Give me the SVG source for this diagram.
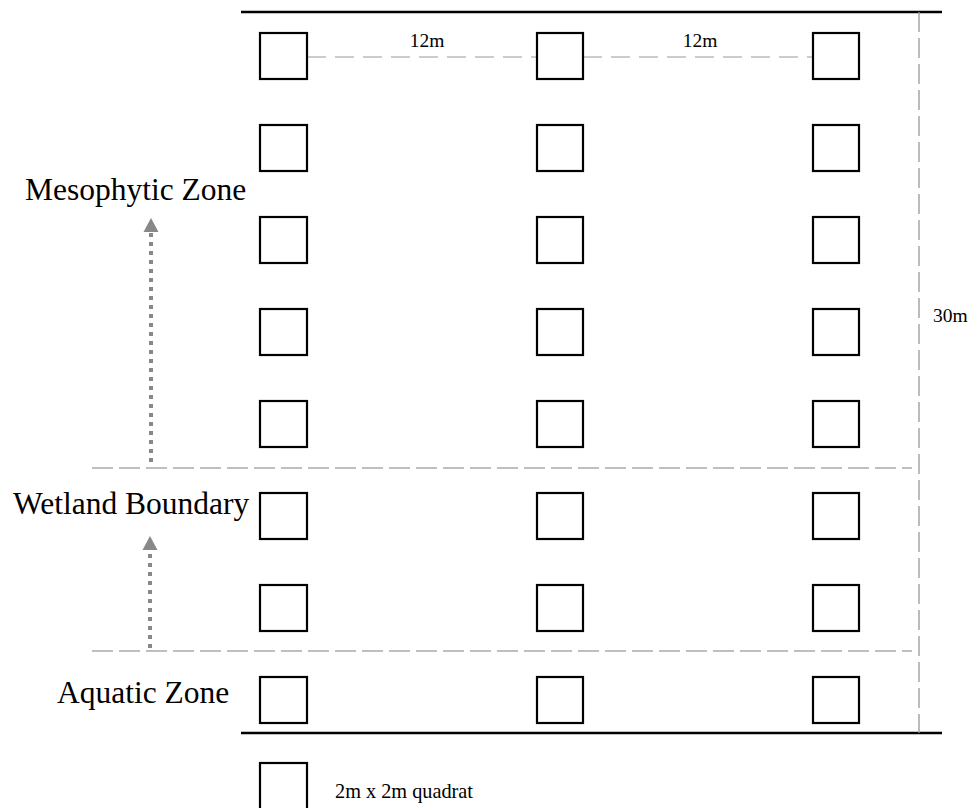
<svg xmlns="http://www.w3.org/2000/svg" width="977" height="808" viewBox="0 0 977 808">
<defs>
<style>
.q{fill:#fff;stroke:#000;stroke-width:2.2}
.edge{stroke:#000;stroke-width:2.5}
.dash{stroke:#aaa;stroke-width:1.3;stroke-dasharray:21 6;fill:none}
.dash2{stroke:#999;stroke-width:1.1;stroke-dasharray:19 9;fill:none}
.vdash{stroke:#999;stroke-width:1.3;stroke-dasharray:20 6;fill:none}
.dot{stroke:#888;stroke-width:4;stroke-dasharray:4 5;fill:none}
.big{font-family:"Liberation Serif","Times New Roman",serif;font-size:31.5px;fill:#000}
.sm{font-family:"Liberation Serif","Times New Roman",serif;font-size:19.5px;fill:#000}
.lg{font-family:"Liberation Serif","Times New Roman",serif;font-size:20.3px;fill:#000}
</style>
</defs>
<rect width="977" height="808" fill="#fff"/>
<g id="connectors">
<line class="edge" x1="241" y1="12" x2="942" y2="12"/>
<line class="edge" x1="241" y1="733" x2="942" y2="733"/>
<line class="vdash" x1="919" y1="12" x2="919" y2="733"/>
<line class="dash2" x1="307" y1="57" x2="537" y2="57"/>
<line class="dash2" x1="583" y1="57" x2="813" y2="57"/>
<line class="dash" x1="92" y1="468" x2="912" y2="468"/>
<line class="dash" x1="92" y1="651" x2="912" y2="651"/>
<line class="dot" x1="151" y1="462" x2="151" y2="232"/>
<path d="M151,218 L158.5,232 L143.5,232 Z" fill="#888"/>
<line class="dot" x1="150" y1="648" x2="150" y2="550"/>
<path d="M150,536 L157.5,550 L142.5,550 Z" fill="#888"/>
</g>
<g id="col1">
<rect class="q" x="260" y="33" width="47" height="46"/>
<rect class="q" x="260" y="125" width="47" height="46"/>
<rect class="q" x="260" y="217" width="47" height="46"/>
<rect class="q" x="260" y="309" width="47" height="46"/>
<rect class="q" x="260" y="401" width="47" height="46"/>
<rect class="q" x="260" y="493" width="47" height="46"/>
<rect class="q" x="260" y="585" width="47" height="46"/>
<rect class="q" x="260" y="677" width="47" height="46"/>
</g>
<g id="col2">
<rect class="q" x="537" y="33" width="46" height="46"/>
<rect class="q" x="537" y="125" width="46" height="46"/>
<rect class="q" x="537" y="217" width="46" height="46"/>
<rect class="q" x="537" y="309" width="46" height="46"/>
<rect class="q" x="537" y="401" width="46" height="46"/>
<rect class="q" x="537" y="493" width="46" height="46"/>
<rect class="q" x="537" y="585" width="46" height="46"/>
<rect class="q" x="537" y="677" width="46" height="46"/>
</g>
<g id="col3">
<rect class="q" x="813" y="33" width="46" height="46"/>
<rect class="q" x="813" y="125" width="46" height="46"/>
<rect class="q" x="813" y="217" width="46" height="46"/>
<rect class="q" x="813" y="309" width="46" height="46"/>
<rect class="q" x="813" y="401" width="46" height="46"/>
<rect class="q" x="813" y="493" width="46" height="46"/>
<rect class="q" x="813" y="585" width="46" height="46"/>
<rect class="q" x="813" y="677" width="46" height="46"/>
</g>
<g id="labels">
<text class="sm" x="427" y="47" text-anchor="middle">12m</text>
<text class="sm" x="700" y="47" text-anchor="middle">12m</text>
<text class="sm" x="933" y="322">30m</text>
<text class="big" x="25" y="200">Mesophytic Zone</text>
<text class="big" x="13" y="514">Wetland Boundary</text>
<text class="big" x="57" y="703">Aquatic Zone</text>
</g>
<g id="legend">
<rect class="q" x="260" y="763" width="47" height="48"/>
<text class="lg" x="335" y="798">2m x 2m quadrat</text>
</g>
</svg>
